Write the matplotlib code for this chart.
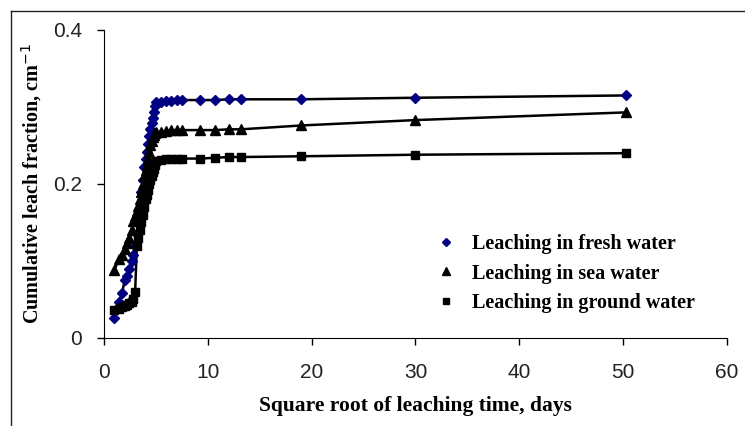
import numpy as np
import matplotlib
matplotlib.use("Agg")
import matplotlib.pyplot as plt
from matplotlib.lines import Line2D

# square root of leaching time (days)
sqrt_t = [1.0, 1.41, 1.73, 2.0, 2.24, 2.45, 2.65, 2.83, 3.0, 3.16, 3.32, 3.46,
          3.61, 3.74, 3.87, 4.0, 4.12, 4.24, 4.36, 4.47, 4.58, 4.69, 4.8, 4.9,
          5.0, 5.5, 6.0, 6.5, 7.0, 7.5, 9.2, 10.7, 12.0, 13.2, 19.0, 30.0, 50.3]

# cumulative leach fraction, cm^-1
fresh = [0.026, 0.047, 0.058, 0.075, 0.08, 0.09, 0.1, 0.108, 0.12, 0.135, 0.149, 0.165,
         0.19, 0.205, 0.222, 0.232, 0.242, 0.252, 0.262, 0.272, 0.279, 0.286, 0.294, 0.301,
         0.306, 0.307, 0.308, 0.308, 0.309, 0.309, 0.309, 0.309, 0.31, 0.31, 0.31, 0.312, 0.315]
sea = [0.088, 0.102, 0.108, 0.116, 0.123, 0.13, 0.14, 0.152, 0.158, 0.165, 0.172, 0.18,
       0.19, 0.2, 0.21, 0.218, 0.225, 0.233, 0.242, 0.25, 0.256, 0.261, 0.264, 0.266,
       0.267, 0.268, 0.269, 0.27, 0.27, 0.27, 0.27, 0.27, 0.271, 0.271, 0.276, 0.283, 0.293]
ground = [0.036, 0.038, 0.04, 0.042, 0.043, 0.045, 0.047, 0.05, 0.06, 0.12, 0.13, 0.14,
          0.15, 0.16, 0.17, 0.18, 0.186, 0.192, 0.2, 0.205, 0.21, 0.215, 0.22, 0.225,
          0.23, 0.231, 0.232, 0.232, 0.233, 0.233, 0.233, 0.234, 0.235, 0.235, 0.236, 0.238, 0.24]

labels = ["Leaching in fresh water", "Leaching in sea water", "Leaching in ground water"]
series = [fresh, sea, ground]
markers = ["D", "^", "s"]
colors = ["#000080", "black", "black"]
msizes = [5, 6.5, 5.5]

fig = plt.figure(figsize=(7.45, 4.26), dpi=100)
ax = fig.add_axes([0.1396, 0.2066, 0.8362, 0.723])

for y, m, c, ms in zip(series, markers, colors, msizes):
    ax.plot(sqrt_t, y, color="black", lw=1.8, zorder=2)
    ax.plot(sqrt_t, y, ls="none", marker=m, ms=ms, color=c, zorder=3)

ax.set_xlim(0, 60)
ax.set_ylim(0, 0.4)
ax.set_xticks([0, 10, 20, 30, 40, 50, 60])
ax.set_yticks([0, 0.2, 0.4])
ax.set_yticklabels(["0", "0.2", "0.4"])
for s in ["top", "right"]:
    ax.spines[s].set_visible(False)
ax.tick_params(direction="out", length=5, width=1, labelsize=15, labelcolor="#222222")
ax.tick_params(axis="x", pad=13)
ax.tick_params(axis="y", pad=11)
for lab in ax.get_xticklabels() + ax.get_yticklabels():
    lab.set_family("Liberation Sans")

serif = {"family": "Liberation Serif", "weight": "bold"}
ax.set_xlabel("Square root of leaching time, days", fontdict=serif, fontsize=15.5, labelpad=10)
ax.set_ylabel("Cumulative leach fraction, cm$^{-1}$", fontdict=serif, fontsize=14.5, labelpad=6)

handles = [Line2D([], [], ls="none", marker=m, color=c, ms=ms - 0.5)
           for m, c, ms in zip(markers, colors, msizes)]
ax.legend(handles, labels, loc="upper left", bbox_to_anchor=(0.5, 0.395),
          frameon=False, prop={"family": "Liberation Serif", "weight": "bold", "size": 14.5},
          handletextpad=0.7, labelspacing=0.45, handlelength=1.2)

# outer frame (only top/left visible in the crop)
fig.add_artist(Line2D([11 / 745, 1.0], [1 - 11 / 426, 1 - 11 / 426], color="#222222", lw=1))
fig.add_artist(Line2D([11 / 745, 11 / 745], [0, 1 - 11 / 426], color="#222222", lw=1))

fig.savefig("out.png", dpi=100)
